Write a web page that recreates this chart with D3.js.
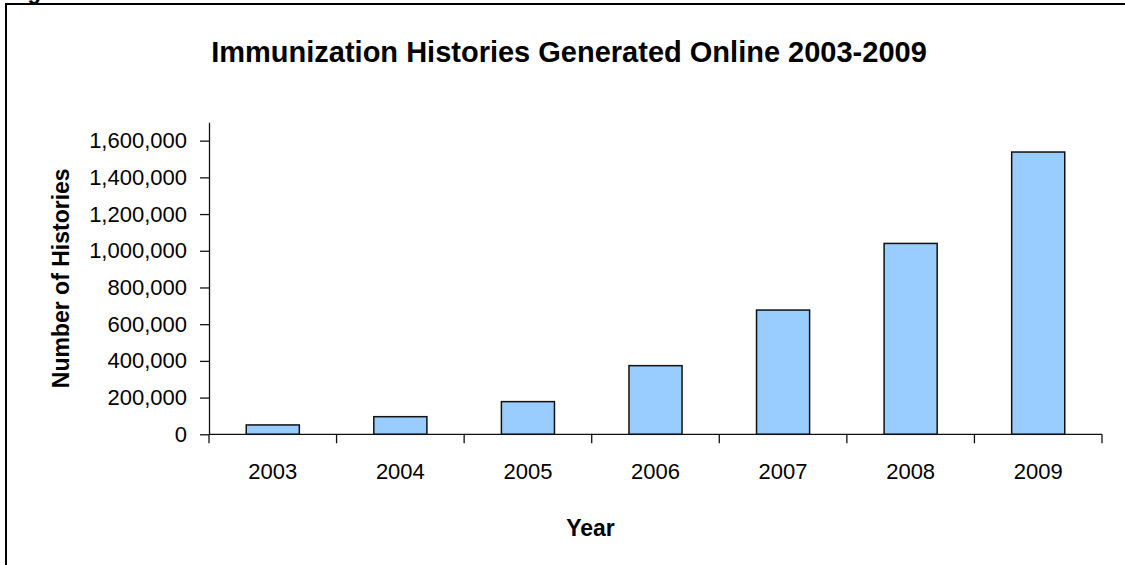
<!DOCTYPE html>
<html>
<head>
<meta charset="utf-8">
<script src="https://cdn.jsdelivr.net/npm/d3@7"></script>
<style>
  body { margin: 0; background: #fff; }
  svg { display: block; font-family: "Liberation Sans", Arial, sans-serif; }
</style>
</head>
<body>
<div id="container"></div>
<script>
// data
const years = ["2003", "2004", "2005", "2006", "2007", "2008", "2009"];
const histories = [51000, 96000, 178000, 374000, 677000, 1040000, 1538000];
const yTicks = [0, 200000, 400000, 600000, 800000, 1000000, 1200000, 1400000, 1600000];

const chartTitle = "Immunization Histories Generated Online 2003-2009";
const xTitle = "Year";
const yTitle = "Number of Histories";

const width = 1125;
const height = 565;
const marginTop = 122.3;
const marginLeft = 209;
const plotRight = 1102;
const plotBottom = 434.3;

const svg = d3.create("svg")
  .attr("width", width)
  .attr("height", height)
  .attr("viewBox", [0, 0, width, height]);

// cut-off caption above the chart box (only the descender shows)
svg.append("text")
  .attr("x", 8)
  .attr("y", -1.5)
  .attr("font-size", 22)
  .attr("font-weight", "bold")
  .text("Figure");

// chart box, cropped on the right and bottom
svg.append("rect")
  .attr("x", 6)
  .attr("y", 4)
  .attr("width", 1300)
  .attr("height", 800)
  .attr("fill", "none")
  .attr("stroke", "#000")
  .attr("stroke-width", 2);

const x = d3.scaleBand()
  .domain(years)
  .range([marginLeft, plotRight])
  .padding(0);

const y = d3.scaleLinear()
  .domain([0, 1700000])
  .range([plotBottom, marginTop]);

const barWidth = x.bandwidth() * 0.416;

// bars
svg.append("g")
  .selectAll("rect")
  .data(years)
  .join("rect")
  .attr("x", (d, i) => x(d) + (x.bandwidth() - barWidth) / 2)
  .attr("y", (d, i) => y(histories[i]))
  .attr("width", barWidth)
  .attr("height", (d, i) => y(0) - y(histories[i]))
  .attr("fill", "#99ccff")
  .attr("stroke", "#111")
  .attr("stroke-width", 1.5);

// y axis
svg.append("g")
  .attr("transform", `translate(${marginLeft},0)`)
  .call(d3.axisLeft(y)
    .tickValues(yTicks)
    .tickSizeInner(9)
    .tickSizeOuter(0)
    .tickPadding(13)
    .tickFormat(d3.format(",")))
  .call(g => g.select(".domain").attr("stroke", "#111").attr("stroke-width", 1.3))
  .call(g => g.selectAll(".tick line").attr("stroke", "#111").attr("stroke-width", 1.3))
  .selectAll(".tick text")
  .attr("font-size", 22)
  .attr("fill", "#000")
  .attr("font-family", "'Liberation Sans', Arial, sans-serif");

// x axis with ticks between categories
const xAxis = svg.append("g")
  .attr("transform", `translate(0,${plotBottom})`);

xAxis.append("line")
  .attr("x1", marginLeft)
  .attr("x2", plotRight)
  .attr("stroke", "#111")
  .attr("stroke-width", 1.3);

xAxis.selectAll(".sep")
  .data(years.concat(["end"]))
  .join("line")
  .attr("class", "sep")
  .attr("x1", (d, i) => i < years.length ? x(d) : x.range()[1])
  .attr("x2", (d, i) => i < years.length ? x(d) : x.range()[1])
  .attr("y1", 0)
  .attr("y2", 9)
  .attr("stroke", "#111")
  .attr("stroke-width", 1.3);

xAxis.selectAll(".lbl")
  .data(years)
  .join("text")
  .attr("class", "lbl")
  .attr("x", d => x(d) + x.bandwidth() / 2)
  .attr("y", 45)
  .attr("text-anchor", "middle")
  .attr("font-size", 22)
  .text(d => d);

// titles
svg.append("text")
  .attr("x", 569)
  .attr("y", 61.5)
  .attr("text-anchor", "middle")
  .attr("font-size", 29)
  .attr("font-weight", "bold")
  .text(chartTitle);

svg.append("text")
  .attr("x", 590.5)
  .attr("y", 536)
  .attr("text-anchor", "middle")
  .attr("font-size", 23)
  .attr("font-weight", "bold")
  .text(xTitle);

svg.append("text")
  .attr("transform", `translate(69,${(marginTop + plotBottom) / 2}) rotate(-90)`)
  .attr("text-anchor", "middle")
  .attr("font-size", 23)
  .attr("font-weight", "bold")
  .text(yTitle);

container.append(svg.node());
</script>
</body>
</html>
